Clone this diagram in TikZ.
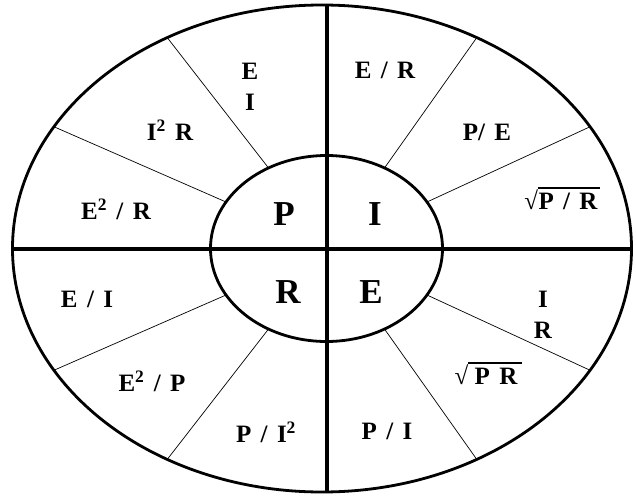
\documentclass[tikz,border=0pt]{standalone}
\usepackage{fontspec}
\setmainfont[WordSpace=1.5]{Liberation Serif}
\usetikzlibrary{calc, positioning}

\newcommand{\sqd}{\textsuperscript{2}}

\begin{document}
\begin{tikzpicture}[
    x=1pt, y=-1pt,
    rim/.style={line width=2.8pt},
    divider/.style={line width=3.8pt},
    spoke/.style={line width=0.7pt},
    bar/.style={line width=2pt},
    lab/.style={font=\fontsize{25}{31}\selectfont\bfseries, align=center, inner sep=0pt},
    big/.style={font=\fontsize{35}{36}\selectfont\bfseries, inner sep=0pt},
]
    \useasboundingbox (0,0) rectangle (636,495);

    %==================== ELLIPSES ====================
    \coordinate (oc) at (322,248.5);
    \coordinate (ic) at (326.5,248.5);
    \draw[rim] (oc) ellipse [x radius=309.5, y radius=243.5];
    \draw[rim] (ic) ellipse [x radius=116, y radius=93];

    %==================== SPOKES ====================
    \foreach \a in {30,60,120,150,210,240,300,330}
        \draw[spoke] ($(ic)+({116*cos(\a)},{-93*sin(\a)})$)
                  -- ($(oc)+({309.5*cos(\a)},{-243.5*sin(\a)})$);

    %==================== CROSS ====================
    \coordinate (west) at (12.5,249);
    \coordinate (east) at (631.5,249);
    \coordinate (north) at (327,5);
    \coordinate (south) at (327,492);
    \draw[divider] (west) -- (east);
    \draw[divider] (north) -- (south);

    %==================== INNER LETTERS ====================
    \node[big] (p) at (284,214) {P};
    \node[big] (i) at (375,214) {I};
    \node[big] (r) at (288,292) {R};
    \node[big] (e) at (371,292) {E};

    %==================== P quadrant ====================
    \node[lab] (ei) at (250,87) {E\\I};
    \node[lab] (iir) at (170,130) {I\sqd{} R};
    \node[lab] (eer) at (116,209) {E\sqd{} / R};

    %==================== I quadrant ====================
    \node[lab] (er) at (385,70) {E / R};
    \node[lab] (pe) at (487,132) {P/ E};
    \node[lab] (rpr) at (568,201) {P / R};
    \node[lab, anchor=base east] (rprs) at (rpr.base west) {√};
    \draw[bar] ([yshift=1.5pt]rprs.north east) -- ([yshift=1.5pt, xshift=2pt]rprs.north east -| rpr.east);

    %==================== E quadrant ====================
    \node[lab] (ir) at (543,315) {I\\R};
    \node[lab] (prr) at (496,376) {P R};
    \node[lab, anchor=base east] (prrs) at ([xshift=-6pt]prr.base west) {√};
    \draw[bar] ([yshift=1.5pt]prrs.north east) -- ([yshift=1.5pt, xshift=4pt]prrs.north east -| prr.east);
    \node[lab] (pi) at (387,431) {P / I};

    %==================== R quadrant ====================
    \node[lab] (eoi) at (87,299) {E / I};
    \node[lab] (eep) at (152,381) {E\sqd{} / P};
    \node[lab] (pii) at (266,432) {P / I\sqd};

\end{tikzpicture}
\end{document}
